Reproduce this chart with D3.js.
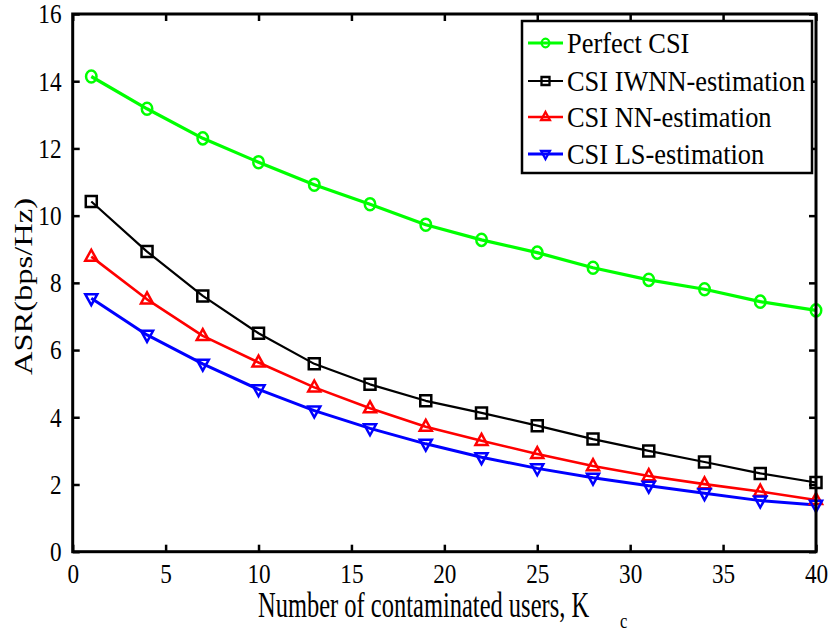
<!DOCTYPE html>
<html><head><meta charset="utf-8">
<script src="https://cdn.jsdelivr.net/npm/d3@7"></script>
<style>body{margin:0;background:#fff}svg{display:block}text{font-family:"Liberation Serif","Times New Roman",serif;fill:#000}</style>
</head><body><svg id="c" width="833" height="632"></svg>
<script>
const xValues = [1,4,7,10,13,16,19,22,25,28,31,34,37,40];
const perfectCSI = [14.14,13.18,12.30,11.59,10.92,10.34,9.73,9.28,8.90,8.45,8.09,7.81,7.44,7.18];
const iwnnCSI = [10.42,8.93,7.61,6.50,5.59,4.98,4.49,4.13,3.75,3.35,3.00,2.67,2.33,2.06];
const nnCSI = [8.78,7.51,6.42,5.63,4.89,4.27,3.72,3.30,2.91,2.55,2.25,2.01,1.79,1.54];
const lsCSI = [7.54,6.45,5.59,4.83,4.20,3.67,3.21,2.81,2.48,2.20,1.96,1.74,1.52,1.39];
const seriesNames = ["Perfect CSI","CSI IWNN-estimation","CSI NN-estimation","CSI LS-estimation"];
const xTicks = [0,5,10,15,20,25,30,35,40];
const yTicks = [0,2,4,6,8,10,12,14,16];

const series = [
  {name:seriesNames[0], values:perfectCSI, color:"#00ff00", marker:"circle", lw:3.2},
  {name:seriesNames[1], values:iwnnCSI, color:"#000000", marker:"square", lw:2.2},
  {name:seriesNames[2], values:nnCSI, color:"#ff0000", marker:"up", lw:2.6},
  {name:seriesNames[3], values:lsCSI, color:"#0000ff", marker:"down", lw:3}
];

const svg = d3.select("#c");
const L=72.7, R=816, T=14, B=551.7;
const x = d3.scaleLinear().domain([0,40]).range([L,R]);
const y = d3.scaleLinear().domain([0,16]).range([B,T]);
const SX = 0.86;

function markerPath(type, s){
  if(type==="square") return `M${-s},${-s}H${s}V${s}H${-s}Z`;
  if(type==="up") return `M0,${-s*1.25}L${s*1.1},${s*0.75}L${-s*1.1},${s*0.75}Z`;
  return `M0,${s*1.25}L${s*1.1},${-s*0.75}L${-s*1.1},${-s*0.75}Z`;
}
function drawMarker(g, type, cx, cy, s, color, sw){
  if(type==="circle"){
    g.append("ellipse").attr("cx",cx).attr("cy",cy).attr("rx",s*0.95).attr("ry",s*1.1)
     .attr("fill","none").attr("stroke",color).attr("stroke-width",sw);
  } else {
    g.append("path").attr("transform",`translate(${cx},${cy})`).attr("d",markerPath(type,s))
     .attr("fill","none").attr("stroke",color).attr("stroke-width",sw);
  }
}

// axes
const axB = svg.append("g").attr("transform",`translate(0,${B})`)
  .call(d3.axisBottom(x).tickValues(xTicks).tickSizeInner(-7).tickSizeOuter(0).tickPadding(12));
const axT = svg.append("g").attr("transform",`translate(0,${T})`)
  .call(d3.axisTop(x).tickValues(xTicks).tickSizeInner(-7).tickSizeOuter(0).tickFormat(""));
const axL = svg.append("g").attr("transform",`translate(${L},0)`)
  .call(d3.axisLeft(y).tickValues(yTicks).tickSizeInner(-7).tickSizeOuter(0).tickPadding(13));
const axR = svg.append("g").attr("transform",`translate(${R},0)`)
  .call(d3.axisRight(y).tickValues(yTicks).tickSizeInner(-7).tickSizeOuter(0).tickFormat(""));
[axB,axT,axL,axR].forEach(a=>{
  a.select(".domain").remove();
  a.selectAll(".tick line").attr("stroke","#000").attr("stroke-width",2.5);
  a.selectAll(".tick text").attr("font-size",27).attr("font-family","Liberation Serif").attr("fill","#000");
});
axB.selectAll(".tick text").attr("dy","0.71em").attr("transform",`scale(${SX},1)`);
axL.selectAll(".tick text").attr("dy","0.33em").attr("transform",`scale(${SX},1)`);

// lines
const line = d3.line().x((d,i)=>x(xValues[i])).y(d=>y(d));
const plot = svg.append("g");
series.forEach(s=>{
  plot.append("path").datum(s.values).attr("d",line).attr("fill","none")
    .attr("stroke",s.color).attr("stroke-width",s.lw).attr("stroke-linejoin","round");
});
series.forEach(s=>{
  const g = plot.append("g");
  s.values.forEach((v,i)=>drawMarker(g,s.marker,x(xValues[i]),y(v),5.5,s.color,2.5));
});

// frame
svg.append("rect").attr("x",L).attr("y",T).attr("width",R-L).attr("height",B-T)
  .attr("fill","none").attr("stroke","#000").attr("stroke-width",3);

// legend
const lg = svg.append("g");
lg.append("rect").attr("x",522).attr("y",21).attr("width",290).attr("height",152)
  .attr("fill","#fff").attr("stroke","#000").attr("stroke-width",2.5);
const ly = [43,81,117,154];
series.forEach((s,i)=>{
  lg.append("line").attr("x1",528).attr("x2",563).attr("y1",ly[i]).attr("y2",ly[i])
    .attr("stroke",s.color).attr("stroke-width",s.lw);
  drawMarker(lg,s.marker,545.5,ly[i],4,s.color,2.3);
  lg.append("g").attr("transform",`translate(567,${ly[i]+10}) scale(0.88,1)`)
    .append("text").attr("font-size",30).text(s.name);
});

// axis titles
svg.append("g").attr("transform",`translate(258,617) scale(0.70,1)`)
  .append("text").attr("font-size",35).text("Number of contaminated users, K");
svg.append("g").attr("transform",`translate(620,628) scale(0.75,1)`)
  .append("text").attr("font-size",22).text("c");
svg.append("g").attr("transform",`translate(32,286.5) rotate(-90) scale(1,0.75)`)
  .append("text").attr("text-anchor","middle").attr("font-size",32.5).text("ASR(bps/Hz)");
</script></body></html>
